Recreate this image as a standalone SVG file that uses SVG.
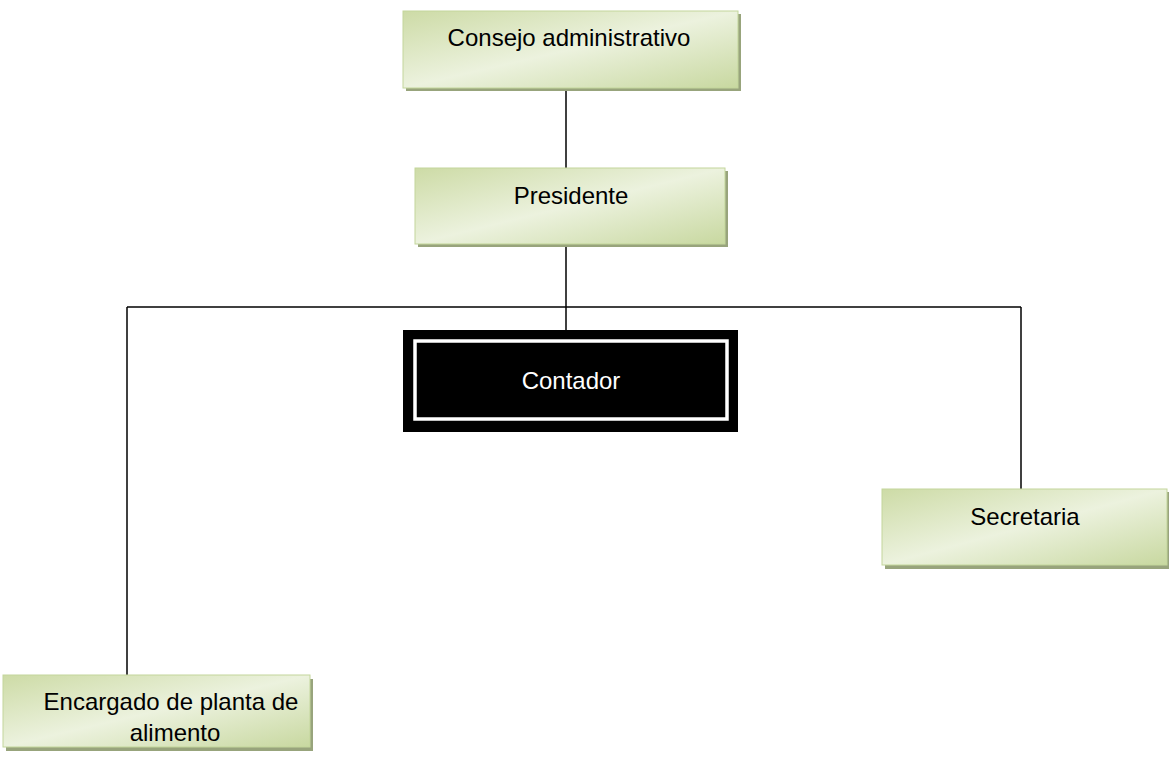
<svg xmlns="http://www.w3.org/2000/svg" width="1169" height="765" viewBox="0 0 1169 765">
<style>
.box{fill:url(#g);stroke:#c3d69b;stroke-width:1}
.sh{fill:#98a47c}
.t{font-family:"Liberation Sans",Arial,sans-serif;font-size:24px;fill:#000;text-anchor:middle}
.ln{stroke:#000;stroke-width:1.5;fill:none}
</style>
<defs>
<linearGradient id="g" x1="0" y1="0" x2="1" y2="1">
<stop offset="0" stop-color="#cddba6"/>
<stop offset="0.5" stop-color="#ecf2de"/>
<stop offset="1" stop-color="#c8d8a0"/>
</linearGradient>
</defs>
<rect width="1169" height="765" fill="#fff"/>
<g id="connectors">
<line class="ln" x1="566" y1="88" x2="566" y2="168"/>
<line class="ln" x1="566" y1="245" x2="566" y2="341"/>
<line class="ln" x1="127" y1="307" x2="1021" y2="307"/>
<line class="ln" x1="127" y1="307" x2="127" y2="675"/>
<line class="ln" x1="1021" y1="307" x2="1021" y2="489"/>
</g>
<g id="consejo">
<rect class="sh" x="406" y="14" width="335" height="77"/>
<rect class="box" x="403" y="11" width="335" height="77"/>
<text class="t" x="569" y="46">Consejo administrativo</text>
</g>
<g id="presidente">
<rect class="sh" x="418" y="171" width="310" height="76"/>
<rect class="box" x="415" y="168" width="310" height="76"/>
<text class="t" x="571" y="204">Presidente</text>
</g>
<g id="contador">
<rect x="403" y="330" width="335" height="102" fill="#000"/>
<rect x="415" y="341" width="312" height="78" fill="none" stroke="#fff" stroke-width="3.5"/>
<text class="t" x="571" y="389" style="fill:#fff">Contador</text>
</g>
<g id="secretaria">
<rect class="sh" x="885" y="492" width="284" height="77"/>
<rect class="box" x="882" y="489" width="285" height="76"/>
<text class="t" x="1025" y="525">Secretaria</text>
</g>
<g id="encargado">
<rect class="sh" x="6" y="679" width="307" height="72"/>
<rect class="box" x="3" y="675" width="307" height="72"/>
<text class="t" x="171" y="710">Encargado de planta de</text>
<text class="t" x="175" y="741">alimento</text>
</g>
</svg>
